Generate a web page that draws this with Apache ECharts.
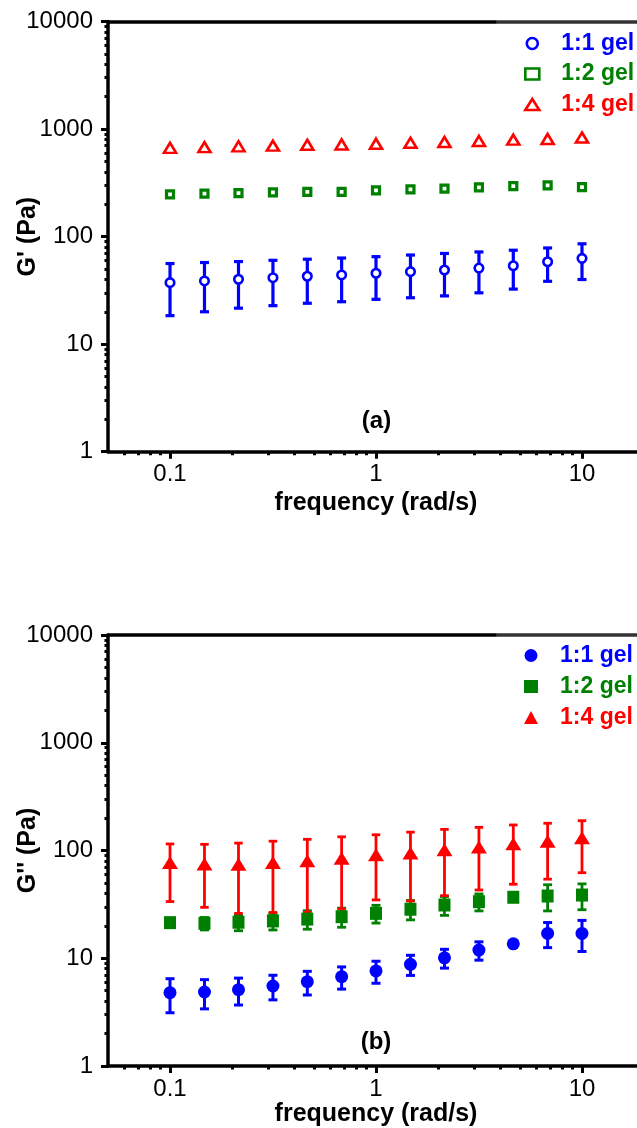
<!DOCTYPE html>
<html>
<head>
<meta charset="utf-8">
<script src="https://cdn.jsdelivr.net/npm/echarts@6/dist/echarts.min.js"></script>
<style>
html,body{margin:0;padding:0;background:#fff;}
#chart{width:637px;height:1128px;}
</style>
</head>
<body>
<div id="chart"></div>
<script>
// ---------- data ----------
const freq = [0.1, 0.147, 0.215, 0.316, 0.464, 0.681, 1, 1.47, 2.15, 3.16, 4.64, 6.81, 10];
const seriesNames = ['1:1 gel', '1:2 gel', '1:4 gel'];

// (a) storage modulus G'
const gp11 = [37.3, 38.7, 40.1, 41.5, 42.8, 44.0, 45.6, 47.2, 48.9, 51.0, 53.6, 58.4, 62.8];
const gp11sd = [18.9, 18.7, 18.5, 18.7, 18.8, 19.2, 19.5, 20.2, 20.8, 21.0, 21.1, 20.0, 22.9];
const gp12 = [247, 251, 254, 258, 261, 261, 269, 275, 279, 287, 295, 300, 289];
const gp14 = [641, 650, 662, 671, 684, 688, 700, 714, 726, 742, 763, 774, 799];

// (b) loss modulus G''
const gpp11 = [4.79, 4.86, 5.11, 5.53, 6.06, 6.74, 7.62, 8.79, 10.1, 11.9, 13.6, 17.0, 17.0];
const gpp11sd = [1.67, 1.47, 1.43, 1.42, 1.5, 1.57, 1.76, 1.86, 2.0, 2.3, 0.4, 4.45, 5.45];
const gpp12 = [21.4, 21.1, 21.6, 22.2, 23.1, 24.3, 26.1, 28.5, 31.2, 33.5, 36.8, 37.8, 38.6];
const gpp12sd = [1.5, 2.8, 3.6, 3.9, 4.5, 4.9, 4.9, 5.8, 6.2, 6.0, 2.5, 10.3, 10.4];
const gpp14 = [74.3, 71.9, 71.6, 74.3, 76.8, 81.3, 87.4, 91.0, 97.6, 103.5, 110.6, 116.6, 125.6];
const gpp14sd = [40.7, 42.2, 45.5, 47.7, 50.2, 52.7, 52.6, 57.0, 59.5, 60.5, 62.0, 62.4, 63.4];

// ticks
const xMajorTicks = [0.1, 1, 10];
const xMinorTicks = [0.06, 0.07, 0.08, 0.09, 0.2, 0.3, 0.4, 0.5, 0.6, 0.7, 0.8, 0.9,
                     2, 3, 4, 5, 6, 7, 8, 9, 20];
const yMajorTicks = [1, 10, 100, 1000, 10000];
const yMinorTicks = [2, 3, 4, 5, 6, 7, 8, 9, 20, 30, 40, 50, 60, 70, 80, 90,
                     200, 300, 400, 500, 600, 700, 800, 900, 2000, 3000, 4000, 5000, 6000, 7000, 8000, 9000];
const xLabel = 'frequency (rad/s)';
const yLabels = ["G' (Pa)", "G'' (Pa)"];
const panelTags = ['(a)', '(b)'];

// ---------- styling ----------
const FONT = "'Liberation Sans', Arial, Helvetica, sans-serif";
const BLUE = '#0000ff', GREEN = '#008000', RED = '#ff0000';

const chart = echarts.init(document.getElementById('chart'), null, {renderer: 'canvas'});

function fmt(v) { return String(+Number(v).toPrecision(6)); }

function pairs(ys) { return freq.map((f, i) => [f, ys[i]]); }
function errData(m, sd) { return freq.map((f, i) => [f, m[i] - sd[i], m[i] + sd[i]]); }

function errRender(color, lw, cap) {
  return function (params, api) {
    const x = api.value(0), lo = api.value(1), hi = api.value(2);
    const a = api.coord([x, lo]), b = api.coord([x, hi]);
    const h = cap / 2;
    const st = {stroke: color, lineWidth: lw};
    return {type: 'group', children: [
      {type: 'line', shape: {x1: a[0], y1: a[1], x2: b[0], y2: b[1]}, style: st},
      {type: 'line', shape: {x1: a[0] - h, y1: a[1], x2: a[0] + h, y2: a[1]}, style: st},
      {type: 'line', shape: {x1: b[0] - h, y1: b[1], x2: b[0] + h, y2: b[1]}, style: st}
    ]};
  };
}

const grids = [
  {left: 108, right: -7, top: 21.5, height: 430.2, outerBoundsMode: 'none', containLabel: false},
  {left: 108, right: -7, top: 635, height: 431, outerBoundsMode: 'none', containLabel: false}
];

const topLineColor = new echarts.graphic.LinearGradient(0, 0, 1, 0, [
  {offset: 0, color: '#000'}, {offset: 0.722, color: '#000'},
  {offset: 0.723, color: '#333'}, {offset: 1, color: '#333'}
]);

const xNameGaps = [39, 36];
const xAxes = [], yAxes = [];
[0, 1].forEach(g => {
  xAxes.push({
    type: 'log', logBase: 10, gridIndex: g, min: 0.05, max: 20, position: 'bottom',
    axisLine: {show: true, lineStyle: {color: '#000', width: 3.5}},
    axisTick: {show: true, inside: false, length: 7, lineStyle: {color: '#000', width: 3}, customValues: xMajorTicks},
    axisLabel: {show: true, customValues: xMajorTicks, formatter: fmt, fontSize: 24, color: '#000', fontFamily: FONT, margin: 11},
    splitLine: {show: false}, minorTick: {show: false},
    name: xLabel, nameLocation: 'middle', nameGap: xNameGaps[g], nameMoveOverlap: false,
    nameTextStyle: {fontSize: 25, fontWeight: 'bold', color: '#000', fontFamily: FONT}
  });
  xAxes.push({
    type: 'log', logBase: 10, gridIndex: g, min: 0.05, max: 20, position: 'bottom',
    axisLine: {show: false},
    axisTick: {show: true, inside: false, length: 3.5, lineStyle: {color: '#000', width: 3}, customValues: xMinorTicks},
    axisLabel: {show: false}, splitLine: {show: false}
  });
  xAxes.push({
    type: 'log', logBase: 10, gridIndex: g, min: 0.05, max: 20, position: 'top',
    axisLine: {show: true, lineStyle: {color: topLineColor, width: 3.5}},
    axisTick: {show: false}, axisLabel: {show: false}, splitLine: {show: false}
  });
  yAxes.push({
    type: 'log', logBase: 10, gridIndex: g, min: 1, max: 10000, position: 'left',
    axisLine: {show: true, lineStyle: {color: '#000', width: 3.5}},
    axisTick: {show: true, inside: false, length: 7, lineStyle: {color: '#000', width: 3}, customValues: yMajorTicks},
    axisLabel: {show: true, customValues: yMajorTicks, formatter: fmt, fontSize: 24, color: '#000', fontFamily: FONT, margin: 15},
    splitLine: {show: false}, minorTick: {show: false},
    name: yLabels[g], nameLocation: 'middle', nameGap: 67, nameMoveOverlap: false,
    nameTextStyle: {fontSize: 25, fontWeight: 'bold', color: '#000', fontFamily: FONT}
  });
  yAxes.push({
    type: 'log', logBase: 10, gridIndex: g, min: 1, max: 10000, position: 'left',
    axisLine: {show: false},
    axisTick: {show: true, inside: false, length: 3.5, lineStyle: {color: '#000', width: 3}, customValues: yMinorTicks},
    axisLabel: {show: false}, splitLine: {show: false}
  });
});

// main axes: x index 0 (top panel) / 3 (bottom panel); y index 0 / 2
const XA = [0, 3], YA = [0, 2];

function errSeries(g, m, sd, color, lw, cap) {
  return {
    type: 'custom', xAxisIndex: XA[g], yAxisIndex: YA[g], coordinateSystem: 'cartesian2d',
    renderItem: errRender(color, lw, cap), data: errData(m, sd),
    encode: {x: 0, y: [1, 2]}, silent: true, z: 2, clip: false
  };
}
function scatter(g, name, ys, symbol, size, style, offset) {
  return {
    type: 'scatter', name: name, xAxisIndex: XA[g], yAxisIndex: YA[g],
    data: pairs(ys), symbol: symbol, symbolSize: size, symbolOffset: offset || [0, 0],
    itemStyle: style, z: 2
  };
}

const series = [
  // panel (a)
  errSeries(0, gp11, gp11sd, BLUE, 3.2, 9),
  scatter(0, seriesNames[0], gp11, 'circle', 8.5, {color: '#fff', borderColor: BLUE, borderWidth: 2.6, opacity: 1}),
  scatter(0, seriesNames[1], gp12, 'rect', 7, {color: '#fff', borderColor: GREEN, borderWidth: 3.2, opacity: 1}),
  scatter(0, seriesNames[2], gp14, 'triangle', [12, 10], {color: '#fff', borderColor: RED, borderWidth: 2.6, opacity: 1}, [0, -2]),
  // panel (b)
  errSeries(1, gpp11, gpp11sd, BLUE, 3, 9),
  scatter(1, seriesNames[0], gpp11, 'circle', 13, {color: BLUE, opacity: 1}),
  errSeries(1, gpp12, gpp12sd, GREEN, 2.8, 9),
  scatter(1, seriesNames[1], gpp12, 'rect', [12, 13], {color: GREEN, opacity: 1}),
  errSeries(1, gpp14, gpp14sd, RED, 2.8, 8.5),
  scatter(1, seriesNames[2], gpp14, 'triangle', [16, 13], {color: RED, opacity: 1}, [0, -2])
];

const legendTextBase = {fontSize: 23, fontWeight: 'bold', fontFamily: FONT, lineHeight: 22, padding: [0, 0, 0, 17]};
const legends = [
  {
    orient: 'vertical', left: 519, top: 27, itemWidth: 14, itemHeight: 11, itemGap: 7.5,
    selectedMode: false, textStyle: legendTextBase, symbolKeepAspect: true,
    data: [
      {name: seriesNames[0], icon: 'circle', itemStyle: {color: '#fff', borderColor: BLUE, borderWidth: 2.6}, textStyle: {color: BLUE}},
      {name: seriesNames[1], icon: 'rect', itemStyle: {color: '#fff', borderColor: GREEN, borderWidth: 2.6}, textStyle: {color: GREEN}},
      {name: seriesNames[2], icon: 'triangle', itemStyle: {color: '#fff', borderColor: RED, borderWidth: 2.6}, textStyle: {color: RED}}
    ]
  },
  {
    orient: 'vertical', left: 519, top: 639, itemWidth: 14, itemHeight: 13, itemGap: 8,
    selectedMode: false, textStyle: legendTextBase, symbolKeepAspect: true,
    data: [
      {name: seriesNames[0], icon: 'circle', itemStyle: {color: BLUE, borderWidth: 0}, textStyle: {color: BLUE}},
      {name: seriesNames[1], icon: 'rect', itemStyle: {color: GREEN, borderWidth: 0}, textStyle: {color: GREEN}},
      {name: seriesNames[2], icon: 'triangle', itemStyle: {color: RED, borderWidth: 0}, textStyle: {color: RED}}
    ]
  }
];

chart.setOption({
  backgroundColor: '#fff',
  animation: false,
  textStyle: {fontFamily: FONT},
  grid: grids,
  xAxis: xAxes,
  yAxis: yAxes,
  legend: legends,
  series: series,
  graphic: [
    {type: 'text', x: 376.5, y: 421, style: {text: panelTags[0], font: 'bold 24px ' + FONT, fill: '#000', textAlign: 'center', textVerticalAlign: 'middle'}},
    {type: 'text', x: 376, y: 1042, style: {text: panelTags[1], font: 'bold 24px ' + FONT, fill: '#000', textAlign: 'center', textVerticalAlign: 'middle'}}
  ]
});
</script>
</body>
</html>
